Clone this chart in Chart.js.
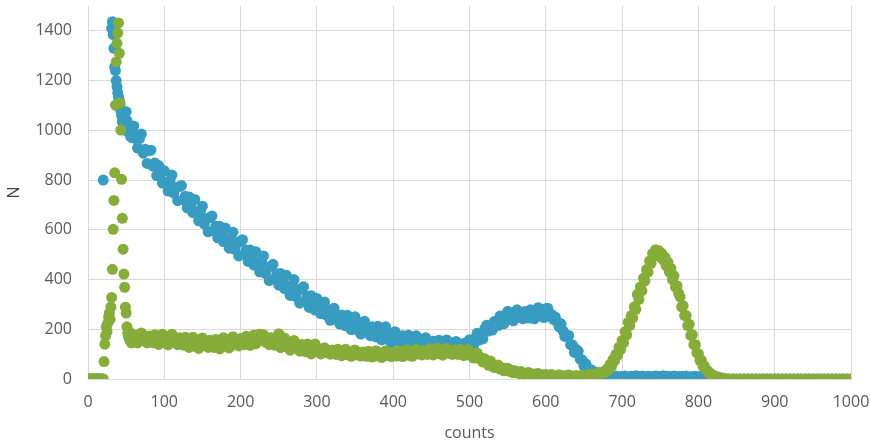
<!DOCTYPE html>
<html>
<head>
<meta charset="utf-8">
<script src="https://cdn.jsdelivr.net/npm/chart.js@4.4.1/dist/chart.umd.min.js"></script>
<style>
  body { margin: 0; background: #fff; }
  #wrap { width: 870px; height: 445px; position: relative; }
</style>
</head>
<body>
<div id="wrap"><canvas id="countsChart"></canvas></div>
<script>
// bin positions (counts)
const counts = [
  0, 2, 4, 6, 8, 10, 12, 14, 16, 18,
  20, 21, 22, 23, 24, 25, 26, 27, 28, 29,
  30, 31, 32, 33, 34, 35, 36, 37, 38, 39,
  40, 41, 42, 43, 44, 45, 46, 47, 48, 49,
  50, 51, 52, 53, 54, 55, 56, 57, 58, 59,
  60, 62.5, 65, 67.5, 70, 72.5, 75, 77.5,
  80, 82.5, 85, 87.5, 90, 92.5, 95, 97.5,
  100, 102.5, 105, 107.5, 110, 112.5, 115, 117.5,
  120, 122.5, 125, 127.5, 130, 132.5, 135, 137.5,
  140, 142.5, 145, 147.5, 150, 152.5, 155, 157.5,
  160, 162.5, 165, 167.5, 170, 172.5, 175, 177.5,
  180, 182.5, 185, 187.5, 190, 192.5, 195, 197.5,
  200, 202.5, 205, 207.5, 210, 212.5, 215, 217.5,
  220, 222.5, 225, 227.5, 230, 232.5, 235, 237.5,
  240, 242.5, 245, 247.5, 250, 252.5, 255, 257.5,
  260, 262.5, 265, 267.5, 270, 272.5, 275, 277.5,
  280, 282.5, 285, 287.5, 290, 292.5, 295, 297.5,
  300, 302.5, 305, 307.5, 310, 312.5, 315, 317.5,
  320, 322.5, 325, 327.5, 330, 332.5, 335, 337.5,
  340, 342.5, 345, 347.5, 350, 352.5, 355, 357.5,
  360, 362.5, 365, 367.5, 370, 372.5, 375, 377.5,
  380, 382.5, 385, 387.5, 390, 392.5, 395, 397.5,
  400, 402.5, 405, 407.5, 410, 412.5, 415, 417.5,
  420, 422.5, 425, 427.5, 430, 432.5, 435, 437.5,
  440, 442.5, 445, 447.5, 450, 452.5, 455, 457.5,
  460, 462.5, 465, 467.5, 470, 472.5, 475, 477.5,
  480, 482.5, 485, 487.5, 490, 492.5, 495, 497.5,
  500, 502.5, 505, 507.5, 510, 512.5, 515, 517.5,
  520, 522.5, 525, 527.5, 530, 532.5, 535, 537.5,
  540, 542.5, 545, 547.5, 550, 552.5, 555, 557.5,
  560, 562.5, 565, 567.5, 570, 572.5, 575, 577.5,
  580, 582.5, 585, 587.5, 590, 592.5, 595, 597.5,
  600, 602.5, 605, 607.5, 610, 612.5, 615, 617.5,
  620, 622.5, 625, 627.5, 630, 632.5, 635, 637.5,
  640, 642.5, 645, 647.5, 650, 652.5, 655, 657.5,
  660, 662.5, 665, 667.5, 670, 672.5, 675, 677.5,
  680, 682, 684, 686, 688, 690, 692, 694, 696, 698,
  700, 702, 704, 706, 708, 710, 712, 714, 716, 718,
  720, 722, 724, 726, 728, 730, 732, 734, 736, 738,
  740, 742, 744, 746, 748, 750, 752, 754, 756, 758,
  760, 762, 764, 766, 768, 770, 772, 774, 776, 778,
  780, 782, 784, 786, 788, 790, 792, 794, 796, 798,
  800, 802, 804, 806, 808, 810, 812, 814, 816, 818,
  820,
  825, 830, 835, 840, 845, 850, 855, 860, 865, 870,
  875, 880, 885, 890, 895, 900, 905, 910, 915, 920,
  925, 930, 935, 940, 945, 950, 955, 960, 965, 970,
  975, 980, 985, 990, 995, 1000
];

// blue series
const blueN = [
  0, 0, 0, 0, 0, 0, 0, 0, 0, 0,
  800, null, null, null, null, null, null, null, null, null,
  null, 1410, 1437, 1385, 1330, 1255, 1240, 1200, 1175, 1150,
  1134, 1120, 1100, 1080, 1060, 1034, 1045, 1020, 1030, 1000,
  1075, 1040, 1005, 1020, 990, 1005, 975, 1010, 970, 990,
  1017, 967, 929, 967, 985, 908, 924, 867,
  919, 920, 856, 869, 818, 859, 824, 788,
  837, 791, 756, 798, 820, 748, 769, 717,
  774, 778, 719, 735, 688, 732, 701, 669,
  722, 673, 636, 676, 695, 623, 644, 592,
  649, 655, 596, 614, 568, 614, 583, 553,
  607, 561, 526, 568, 590, 521, 544, 495,
  554, 560, 501, 519, 473, 519, 488, 458,
  512, 466, 431, 473, 495, 425, 446, 396,
  454, 461, 404, 423, 378, 424, 393, 363,
  417, 371, 336, 378, 400, 331, 354, 305,
  364, 371, 314, 333, 288, 335, 306, 277,
  324, 289, 263, 294, 310, 257, 274, 236,
  280, 285, 241, 255, 221, 257, 235, 214,
  256, 223, 199, 232, 250, 199, 217, 181,
  226, 232, 191, 206, 174, 210, 190, 169,
  212, 180, 157, 191, 210, 160, 179, 144,
  185, 190, 159, 171, 147, 174, 159, 145,
  176, 152, 135, 160, 174, 138, 152, 126,
  160, 166, 135, 147, 124, 152, 138, 124,
  156, 133, 116, 143, 157, 121, 135, 111,
  145, 151, 122, 134, 112, 143, 133, 122,
  158, 141, 131, 163, 184, 156, 178, 161,
  203, 216, 193, 213, 197, 231, 223, 215,
  253, 235, 222, 253, 272, 239, 256, 234,
  271, 278, 250, 263, 242, 271, 258, 245,
  278, 257, 242, 271, 287, 253, 269, 247,
  283, 285, 252, 260, 240, 249, 229, 210,
  222, 194, 171, 177, 175, 138, 137, 107,
  119, 112, 80, 77, 52, 61, 44, 30,
  36, 23, 27, 14, 18, 10, 14, 8,
  6, 12, 4, 10, 8, 3, 11, 6, 9, 4,
  10, 5, 12, 7, 3, 9, 11, 5, 8, 13,
  6, 10, 4, 12, 7, 9, 3, 11, 6, 10,
  8, 4, 12, 6, 10, 5, 9, 13, 7, 4,
  11, 6, 9, 3, 12, 8, 5, 10, 7, 11,
  4, 9, 12, 6, 8, 3, 10, 7, 11, 5,
  9, 6, 12, 4, 8, 10, 5, 11, 7, 3,
  8,
  6, 3, 0, 0, 0, 0, 0, 0, 0, 0,
  0, 0, 0, 0, 0, 0, 0, 0, 0, 0,
  0, 0, 0, 0, 0, 0, 0, 0, 0, 0,
  0, 0, 0, 0, 0, 0
];

// green series
const greenN = [
  0, 0, 0, 0, 0, 0, 0, 0, 0, 0,
  0, 70, 140, 173, 210, 190, 225, 250, 265, 240,
  290, 328, 441, 602, 718, 829, 1101, 1275, 1350, 1391,
  1432, 1310, 1110, 1001, 803, 646, 522, 422, 369, 289,
  265, 210, 185, 170, 190, 155, 175, 145, 180, 160,
  157, 171, 145, 179, 185, 155, 167, 145,
  173, 159, 146, 178, 156, 139, 166, 180,
  145, 160, 137, 172, 180, 150, 161, 138,
  166, 151, 136, 168, 144, 127, 153, 168,
  132, 147, 123, 158, 165, 136, 149, 127,
  156, 142, 127, 159, 136, 121, 149, 166,
  132, 148, 125, 162, 170, 141, 155, 133,
  163, 151, 138, 172, 151, 135, 162, 177,
  142, 158, 180, 170, 178, 148, 160, 138,
  166, 151, 136, 168, 182, 126, 152, 165,
  129, 142, 116, 150, 155, 124, 135, 112,
  139, 124, 110, 141, 118, 101, 127, 141,
  110, 118, 101, 122, 126, 106, 114, 100,
  117, 109, 99, 120, 105, 94, 111, 120,
  98, 107, 91, 113, 117, 98, 106, 92,
  109, 101, 91, 112, 98, 88, 104, 114,
  92, 101, 86, 108, 113, 94, 104, 90,
  108, 100, 92, 113, 99, 90, 107, 118,
  96, 106, 91, 114, 119, 101, 110, 97,
  115, 108, 99, 121, 107, 97, 114, 124,
  102, 111, 96, 118, 123, 104, 113, 99,
  117, 109, 99, 120, 105, 94, 110, 119,
  96, 102, 84, 103, 105, 82, 86, 68,
  81, 69, 55, 72, 54, 46, 53, 56,
  40, 44, 33, 43, 43, 31, 35, 25,
  33, 27, 22, 30, 23, 18, 24, 26,
  16, 20, 14, 21, 22, 15, 17, 12,
  18, 14, 10, 18, 12, 9, 14, 17,
  8, 13, 6, 14, 16, 9, 12, 7,
  14, 10, 8, 16, 11, 9, 16, 19,
  11, 18, 13, 23, 27, 22, 28, 26,
  40, 36, 58, 50, 78, 72, 100, 95, 128, 118,
  155, 145, 190, 178, 228, 215, 255, 245, 290, 280,
  340, 320, 370, 355, 405, 395, 440, 430, 475, 465,
  505, 495, 520, 508, 516, 490, 505, 478, 490, 455,
  470, 430, 445, 400, 415, 370, 375, 345, 330, 290,
  295, 255, 255, 215, 220, 175, 178, 138, 138, 105,
  102, 75, 75, 52, 52, 36, 34, 24, 22, 15,
  14,
  9, 5, 2, 0, 0, 0, 0, 0, 0, 0,
  0, 0, 0, 0, 0, 0, 0, 0, 0, 0,
  0, 0, 0, 0, 0, 0, 0, 0, 0, 0,
  0, 0, 0, 0, 0, 0
];

const xTicks = [0, 100, 200, 300, 400, 500, 600, 700, 800, 900, 1000];
const yTicks = [0, 200, 400, 600, 800, 1000, 1200, 1400];

function toPoints(values) {
  const pts = [];
  for (let i = 0; i < counts.length; i++) {
    if (values[i] !== null) pts.push({ x: counts[i], y: values[i] });
  }
  return pts;
}

const gridColor = '#d9d9d9';
const textColor = '#595959';
const font = { family: '"Open Sans", sans-serif', size: 16 };

const ctx = document.getElementById('countsChart').getContext('2d');
new Chart(ctx, {
  type: 'scatter',
  data: {
    datasets: [
      {
        label: 'green',
        data: toPoints(greenN),
        backgroundColor: '#86ac3a',
        borderWidth: 0,
        pointRadius: 5.5,
        order: 1
      },
      {
        label: 'blue',
        data: toPoints(blueN),
        backgroundColor: '#389cc1',
        borderWidth: 0,
        pointRadius: 5.5,
        order: 2
      }
    ]
  },
  options: {
    responsive: true,
    maintainAspectRatio: false,
    animation: false,
    layout: { padding: { top: 6, right: 0, left: 0, bottom: 0 } },
    plugins: {
      legend: { display: false },
      tooltip: { enabled: false }
    },
    scales: {
      x: {
        type: 'linear',
        min: 0,
        max: 1000,
        afterBuildTicks: (scale) => { scale.ticks = xTicks.map(v => ({ value: v })); },
        afterFit: (scale) => { scale.height = 66; scale.paddingRight = 19; scale.paddingLeft = 0; },
        ticks: { color: textColor, font: font, padding: 14, callback: (v) => String(v) },
        grid: { color: gridColor, drawTicks: false },
        border: { color: gridColor },
        title: { display: true, text: 'counts', color: textColor, font: font, padding: { top: 0, bottom: 2 } }
      },
      y: {
        type: 'linear',
        min: 0,
        max: 1500,
        afterBuildTicks: (scale) => { scale.ticks = yTicks.map(v => ({ value: v })); },
        afterFit: (scale) => { scale.width = 88; scale.paddingTop = 0; scale.paddingBottom = 0; },
        ticks: { color: textColor, font: font, padding: 16, callback: (v) => String(v) },
        grid: { color: gridColor, drawTicks: false },
        border: { color: gridColor },
        title: { display: true, text: 'N', color: '#404040', font: font, padding: { top: 5, bottom: 0 } }
      }
    }
  }
});
</script>
</body>
</html>
